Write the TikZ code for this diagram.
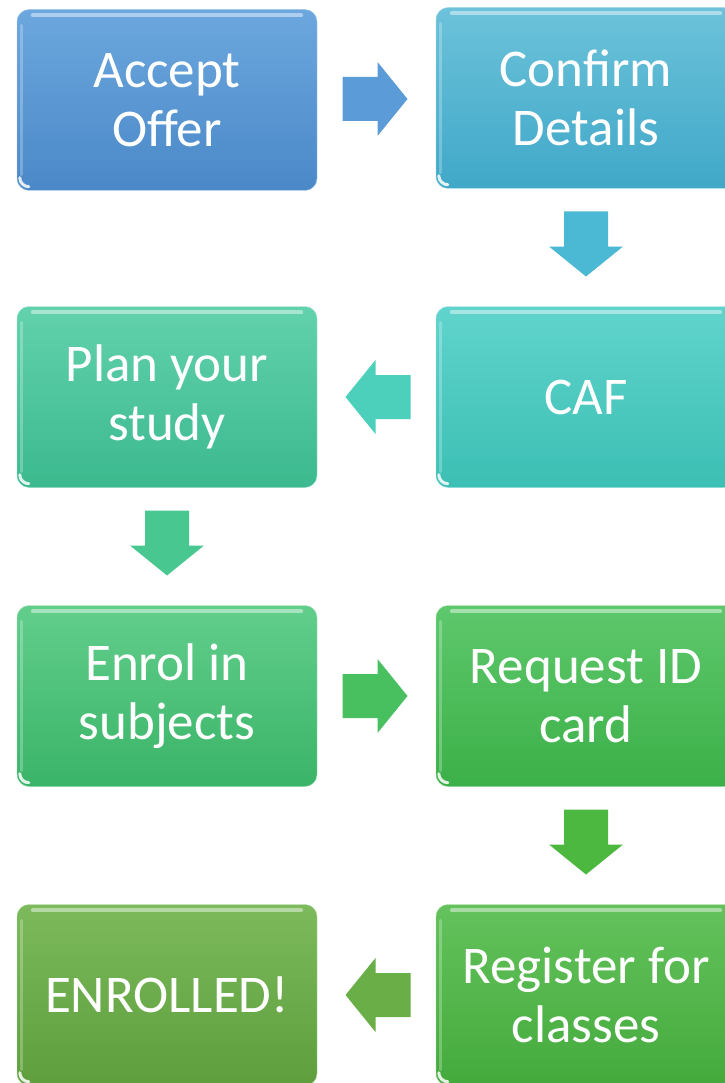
\documentclass[tikz,border=0pt]{standalone}
\usepackage{fontspec}
\setmainfont{Carlito}
\usetikzlibrary{calc}
\definecolor{cA1}{HTML}{6CA8DE}\definecolor{cA2}{HTML}{4A88C8}
\definecolor{cB1}{HTML}{6CC2DA}\definecolor{cB2}{HTML}{40A8C8}
\definecolor{cC1}{HTML}{60D4CC}\definecolor{cC2}{HTML}{3CBFB4}
\definecolor{cD1}{HTML}{62D2AC}\definecolor{cD2}{HTML}{3CB98E}
\definecolor{cE1}{HTML}{62CE8C}\definecolor{cE2}{HTML}{3AB468}
\definecolor{cF1}{HTML}{5EC86C}\definecolor{cF2}{HTML}{3CB048}
\definecolor{cG1}{HTML}{64C25C}\definecolor{cG2}{HTML}{44AA3C}
\definecolor{cH1}{HTML}{7CBA5C}\definecolor{cH2}{HTML}{5E9E3C}
\definecolor{aA}{HTML}{5B9BD8}\definecolor{aB}{HTML}{4BB8D4}
\definecolor{aC}{HTML}{4CD0BC}\definecolor{aD}{HTML}{48C890}
\definecolor{aE}{HTML}{48C060}\definecolor{aF}{HTML}{4CB840}
\definecolor{aG}{HTML}{6AAE48}
\tikzset{
  x=1pt,y=1pt,
  box/.style={rounded corners=12pt, minimum width=300pt, minimum height=181pt,
    align=center, text=white, inner sep=0pt,
    font=\fontsize{53}{59}\selectfont}
}
\begin{document}
\begin{tikzpicture}
\useasboundingbox (0,0) rectangle (724,-1083);
% boxes
\node[box, top color=cA1, bottom color=cA2, draw=cA1!60!white] (a) at (167,-100) {Accept\\Offer};
\node[box, top color=cB1, bottom color=cB2, draw=cB1!60!white] (b) at (586,-98) {Confirm\\Details};
\node[box, top color=cC1, bottom color=cC2, draw=cC1!60!white] (c) at (586,-397) {CAF};
\node[box, top color=cD1, bottom color=cD2, draw=cD1!60!white] (d) at (167,-397) {Plan your\\study};
\node[box, top color=cE1, bottom color=cE2, draw=cE1!60!white] (e) at (167,-696) {Enrol in\\subjects};
\node[box, top color=cF1, bottom color=cF2, draw=cF1!60!white] (f) at (586,-696) {Request ID\\card};
\node[box, top color=cG1, bottom color=cG2, draw=cG1!60!white] (g) at (586,-995) {Register for\\classes};
\node[box, top color=cH1, bottom color=cH2, draw=cH1!60!white] (h) at (167,-995) {ENROLLED!};
% gloss
\foreach \n in {a,b,c,d,e,f,g,h}{
  \draw[white, opacity=.45, line width=4pt, line cap=round]
    ([xshift=16pt,yshift=-6pt]\n.north west) -- ([xshift=-16pt,yshift=-6pt]\n.north east);
  \draw[white, opacity=.25, line width=3pt, line cap=round]
    ([xshift=5pt,yshift=-16pt]\n.north west) -- ([xshift=5pt,yshift=16pt]\n.south west);
  \draw[white, opacity=.85, line width=3pt, line cap=round]
    ([shift={(3,13)}]\n.south west) arc[start angle=180, end angle=270, radius=9];
}
% block arrows
\fill[aA, shift={($(a.east)!.5!(b.west)+(-2,0)$)}]
  (-32,-22) -- (3,-22) -- (3,-37) -- (33,0) -- (3,37) -- (3,22) -- (-32,22) -- cycle;
\fill[aB, shift={($(b.south)!.5!(c.north)+(0,4)$)}, rotate=-90]
  (-32,-22) -- (3,-22) -- (3,-37) -- (33,0) -- (3,37) -- (3,22) -- (-32,22) -- cycle;
\fill[aC, shift={($(c.west)!.5!(d.east)+(2,0)$)}, rotate=180]
  (-32,-22) -- (3,-22) -- (3,-37) -- (33,0) -- (3,37) -- (3,22) -- (-32,22) -- cycle;
\fill[aD, shift={($(d.south)!.5!(e.north)+(0,4)$)}, rotate=-90]
  (-32,-22) -- (3,-22) -- (3,-37) -- (33,0) -- (3,37) -- (3,22) -- (-32,22) -- cycle;
\fill[aE, shift={($(e.east)!.5!(f.west)+(-2,0)$)}]
  (-32,-22) -- (3,-22) -- (3,-37) -- (33,0) -- (3,37) -- (3,22) -- (-32,22) -- cycle;
\fill[aF, shift={($(f.south)!.5!(g.north)+(0,4)$)}, rotate=-90]
  (-32,-22) -- (3,-22) -- (3,-37) -- (33,0) -- (3,37) -- (3,22) -- (-32,22) -- cycle;
\fill[aG, shift={($(g.west)!.5!(h.east)+(2,0)$)}, rotate=180]
  (-32,-22) -- (3,-22) -- (3,-37) -- (33,0) -- (3,37) -- (3,22) -- (-32,22) -- cycle;
\end{tikzpicture}
\end{document}
